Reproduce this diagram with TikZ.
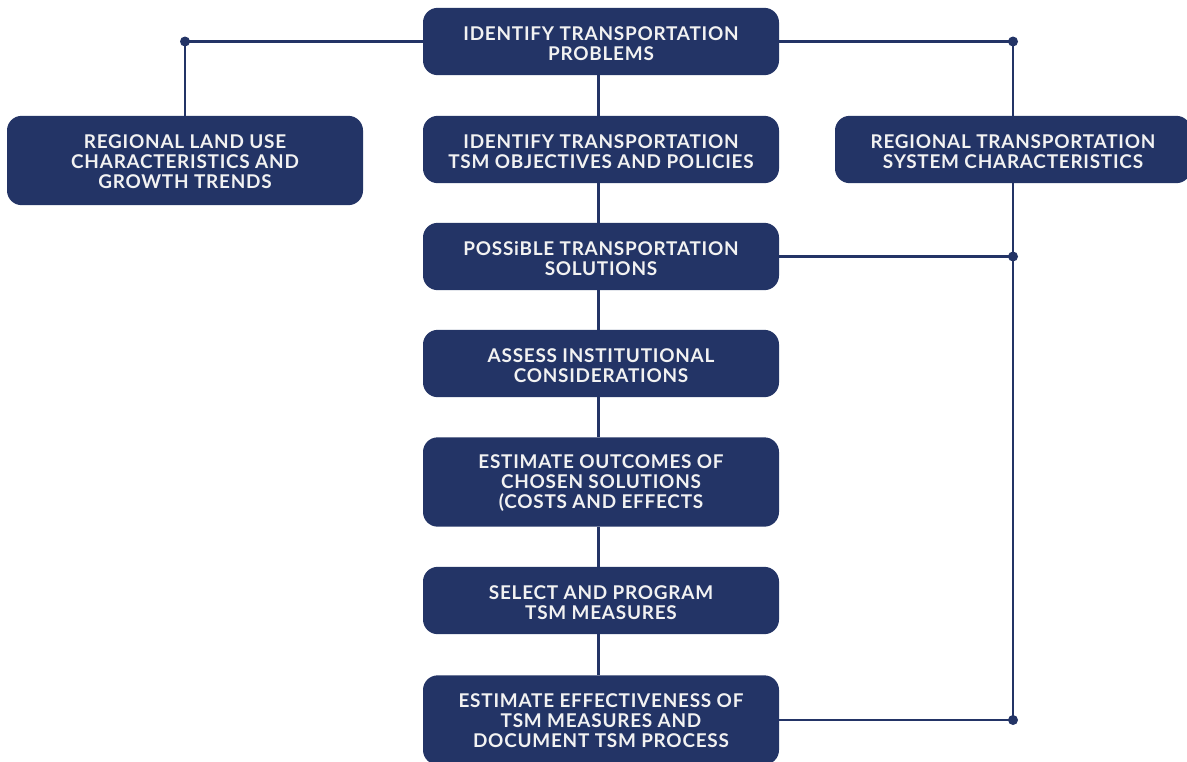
\documentclass[tikz,border=0pt]{standalone}
\usepackage{fontspec}
\setmainfont{Lato}[UprightFont=* Bold, LetterSpace=4]
\definecolor{navy}{HTML}{233466}
\definecolor{boxtext}{HTML}{F2F2F2}
\begin{document}
\begin{tikzpicture}[x=0.75pt,y=-0.75pt,
  box/.style={draw=none,fill=navy,rounded corners=11pt,minimum width=267pt,
    inner sep=0pt},
  txt/.style={align=center,text=boxtext,inner sep=0pt,
    font=\fontsize{14.2pt}{15pt}\selectfont},
  small/.style={minimum height=50.5pt},
  tall/.style={minimum height=67pt},
  conn/.style={draw=navy,line width=2.1pt},
  dot/.style={circle,fill=navy,inner sep=0pt,minimum size=7.5pt}]
\useasboundingbox (0,0) rectangle (1187,761);
\node[box,small] (top) at (601,41.5) {};
\node[box,tall] (left) at (185,160.5) {};
\node[box,small] (m2) at (601,149.5) {};
\node[box,small] (right) at (1013,149.5) {};
\node[box,small] (m3) at (601,256.5) {};
\node[box,small] (m4) at (601,363.5) {};
\node[box,tall] (m5) at (601,482) {};
\node[box,small] (m6) at (601,600.5) {};
\node[box,tall] (m7) at (601,720) {};
\node[txt] (topT) at ([yshift=-1.8pt]top.center) {IDENTIFY TRANSPORTATION\\PROBLEMS};
\node[txt] (leftT) at ([yshift=-0.6pt]left.center) {REGIONAL LAND USE\\CHARACTERISTICS AND\\GROWTH TRENDS};
\node[txt] (m2T) at ([yshift=-1.8pt]m2.center) {IDENTIFY TRANSPORTATION\\TSM OBJECTIVES AND POLICIES};
\node[txt] (rightT) at ([yshift=-1.8pt]right.center) {REGIONAL TRANSPORTATION\\SYSTEM CHARACTERISTICS};
\node[txt] (m3T) at ([yshift=-1.8pt]m3.center) {POSSiBLE TRANSPORTATION\\SOLUTIONS};
\node[txt] (m4T) at ([yshift=-1.8pt]m4.center) {ASSESS INSTITUTIONAL\\CONSIDERATIONS};
\node[txt] (m5T) at ([yshift=-0.6pt]m5.center) {ESTIMATE OUTCOMES OF\\CHOSEN SOLUTIONS\\(COSTS AND EFFECTS};
\node[txt] (m6T) at ([yshift=-1.8pt]m6.center) {SELECT AND PROGRAM\\TSM MEASURES};
\node[txt] (m7T) at ([yshift=-0.6pt]m7.center) {ESTIMATE EFFECTIVENESS OF\\TSM MEASURES AND\\DOCUMENT TSM PROCESS};
\node[dot] (dl) at (185,41.5) {};
\node[dot] (dr) at (1013,41.5) {};
\node[dot] (d3) at (1013,256.5) {};
\node[dot] (d7) at (1013,720) {};
\draw[conn] ([xshift=-2pt]top.south) -- ([xshift=-2pt]m2.north);
\draw[conn] ([xshift=-2pt]m2.south) -- ([xshift=-2pt]m3.north);
\draw[conn] ([xshift=-2pt]m3.south) -- ([xshift=-2pt]m4.north);
\draw[conn] ([xshift=-2pt]m4.south) -- ([xshift=-2pt]m5.north);
\draw[conn] ([xshift=-2pt]m5.south) -- ([xshift=-2pt]m6.north);
\draw[conn] ([xshift=-2pt]m6.south) -- ([xshift=-2pt]m7.north);
\draw[conn] (top.west) -- (dl.center) -- (left.north);
\draw[conn] (top.east) -- (dr.center) -- (right.north);
\draw[conn] (right.south) -- (d7.center);
\draw[conn] (m3.east) -- (d3.center);
\draw[conn] (m7.east) -- (d7.center);
\end{tikzpicture}
\end{document}
